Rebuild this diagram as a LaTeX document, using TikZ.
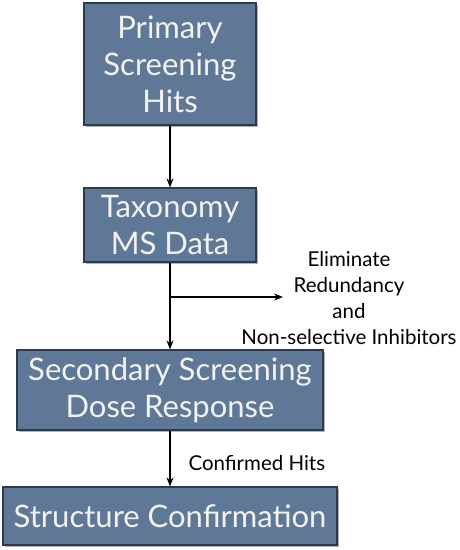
\documentclass[tikz,border=0pt]{standalone}
\usepackage{fontspec}
\setmainfont{Lato}
\usetikzlibrary{arrows.meta,shadows}
\definecolor{boxfill}{HTML}{5F7897}
\definecolor{boxline}{HTML}{2C3A4C}
\definecolor{boxtext}{HTML}{F2F2EE}
\begin{document}
\begin{tikzpicture}[x=1pt,y=-1pt,
  flowbox/.style={draw=boxline,line width=1.2pt,fill=boxfill,text=boxtext,
    drop shadow={shadow xshift=2pt,shadow yshift=-2pt,opacity=0.5,fill=black!60},
    font=\fontsize{31}{37}\selectfont,align=center,inner sep=0pt},
  conn/.style={line width=1.2pt,-{Stealth[length=9pt,width=7pt]}},
  lbl/.style={font=\fontsize{20.5}{26}\selectfont,align=center}]
\useasboundingbox (0,0) rectangle (460,550);
\node[flowbox,minimum width=172pt,minimum height=122pt] (b1) at (170,64) {Primary\\Screening\\Hits};
\node[flowbox,minimum width=172pt,minimum height=74pt] (b2) at (170,225) {Taxonomy\\MS Data};
\node[flowbox,minimum width=306pt,minimum height=80pt] (b3) at (170,390) {Secondary Screening\\Dose Response};
\node[flowbox,minimum width=334pt,minimum height=58pt] (b4) at (170,516) {Structure Confirmation};
\coordinate (br) at (170,297);
\coordinate (be) at (283,297);
\node[lbl] (t1) at (349,298) {Eliminate\\Redundancy\\and\\Non-selective Inhibitors};
\node[lbl,anchor=west] (t2) at (185,463) {Confirmed Hits};
\draw[conn] (b1) -- (b2);
\draw[conn] (b2) -- (b3);
\draw[conn] (br) -- (be);
\draw[conn] (b3) -- (b4);
\end{tikzpicture}
\end{document}
